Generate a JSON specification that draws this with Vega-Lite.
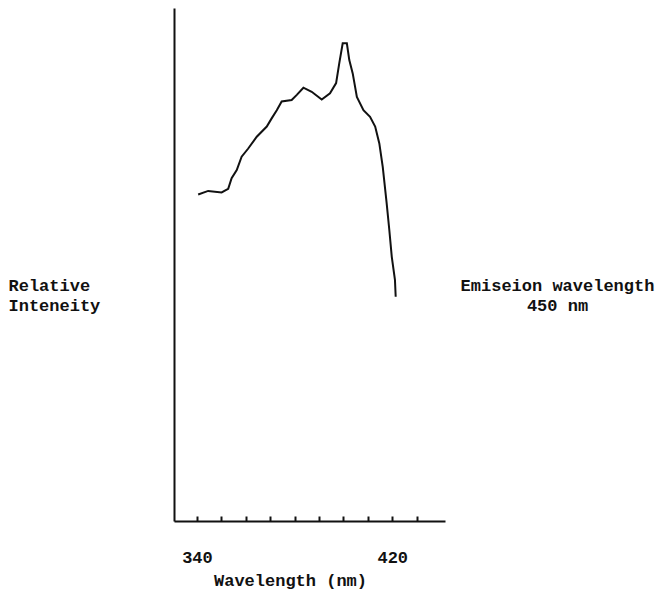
{
  "$schema": "https://vega.github.io/schema/vega-lite/v6.json",
  "width": 271,
  "height": 513,
  "autosize": {"type": "none"},
  "padding": {"left": 174, "top": 8, "right": 216, "bottom": 70},
  "background": "white",
  "config": {
    "view": {"stroke": null},
    "axis": {"grid": false, "domainColor": "#111", "domainWidth": 2, "tickColor": "#111", "tickWidth": 2,
      "labelFont": "Liberation Mono", "labelFontWeight": "bold", "labelFontSize": 17, "labelColor": "#111",
      "titleFont": "Liberation Mono", "titleFontWeight": "bold", "titleFontSize": 17, "titleColor": "#111"}
  },
  "data": {"values": [
    {"wl": 340.5, "int": 63.9}, {"wl": 344.6, "int": 64.6}, {"wl": 350.1, "int": 64.3}, {"wl": 352.8, "int": 65.0},
    {"wl": 354.2, "int": 67.1}, {"wl": 356.3, "int": 68.7}, {"wl": 358.3, "int": 71.3}, {"wl": 361.0, "int": 72.9},
    {"wl": 364.5, "int": 75.2}, {"wl": 368.6, "int": 77.2}, {"wl": 370.6, "int": 78.8}, {"wl": 372.7, "int": 80.4},
    {"wl": 374.7, "int": 82.1}, {"wl": 378.8, "int": 82.4}, {"wl": 380.9, "int": 83.4}, {"wl": 383.6, "int": 84.8},
    {"wl": 387.0, "int": 84.0}, {"wl": 391.1, "int": 82.5}, {"wl": 394.5, "int": 83.7}, {"wl": 397.0, "int": 85.7},
    {"wl": 398.3, "int": 89.6}, {"wl": 399.7, "int": 93.5}, {"wl": 401.4, "int": 93.5}, {"wl": 402.4, "int": 90.2},
    {"wl": 403.8, "int": 87.6}, {"wl": 405.5, "int": 83.0}, {"wl": 408.2, "int": 80.4}, {"wl": 410.9, "int": 79.1},
    {"wl": 413.0, "int": 77.2}, {"wl": 414.7, "int": 73.9}, {"wl": 416.1, "int": 69.3}, {"wl": 417.7, "int": 62.2},
    {"wl": 418.8, "int": 56.9}, {"wl": 419.8, "int": 51.7}, {"wl": 421.1, "int": 47.2}, {"wl": 421.4, "int": 43.9}
  ]},
  "encoding": {
    "x": {"field": "wl", "type": "quantitative",
      "scale": {"domain": [330.6, 441.6], "nice": false, "zero": false},
      "axis": {"values": [340, 350, 360, 370, 380, 390, 400, 410, 420, 430],
        "labelExpr": "datum.value == 340 || datum.value == 420 ? datum.label : ''",
        "tickSize": -5, "labelPadding": 46, "labelBaseline": "alphabetic",
        "title": "Wavelength (nm)", "titleX": 116, "titleY": 64, "titleAlign": "center", "titleBaseline": "alphabetic"}}
  },
  "layer": [
    {
      "mark": {"type": "line", "color": "#111", "strokeWidth": 2},
      "encoding": {
        "y": {"field": "int", "type": "quantitative",
          "scale": {"domain": [0, 100.4], "nice": false},
          "axis": {"orient": "left", "ticks": false, "labels": false,
            "title": ["Relative", "Inteneity"], "titleAngle": 0, "titleX": -166, "titleY": 282,
            "titleAlign": "left", "titleBaseline": "alphabetic", "titleLineHeight": 20}}
      }
    },
    {
      "mark": {"type": "line", "opacity": 0},
      "encoding": {
        "y": {"field": "int", "type": "quantitative",
          "axis": {"orient": "right", "domain": false, "ticks": false, "labels": false,
            "title": ["Emiseion wavelength", "450 nm"], "titleAngle": 0, "titleX": 112, "titleY": 282,
            "titleAlign": "center", "titleBaseline": "alphabetic", "titleLineHeight": 20}}
      }
    }
  ],
  "resolve": {"axis": {"y": "independent"}}
}
